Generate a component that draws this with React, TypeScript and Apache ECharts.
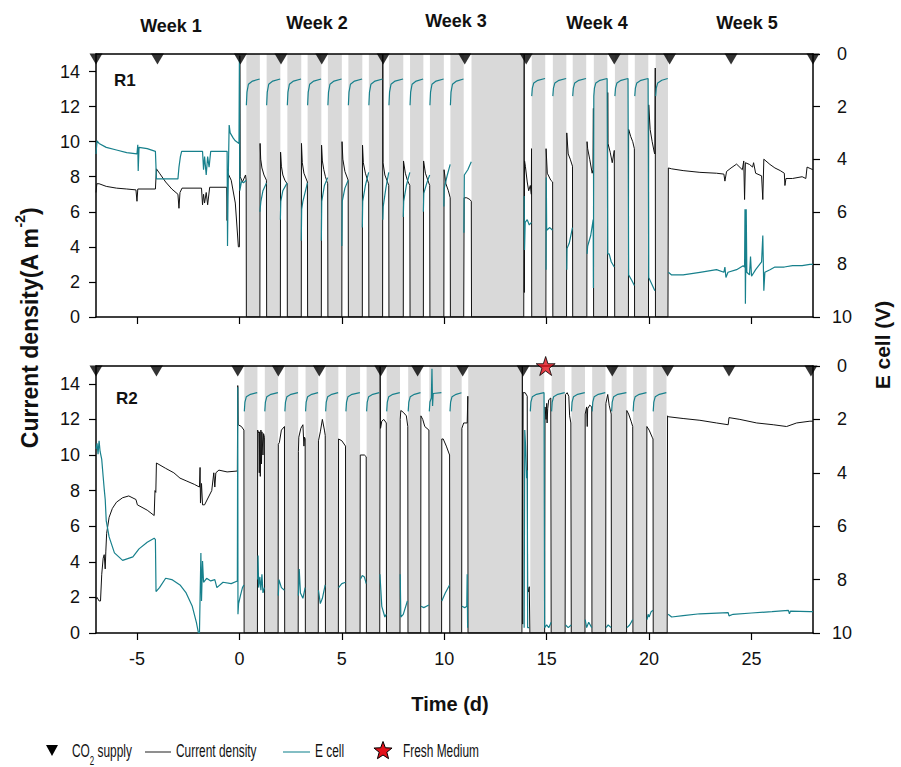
import React, { useEffect, useRef } from "react";
import * as echarts from "echarts";

type Pt = [number, number] | null;

const xTickValues = [-5, 0, 5, 10, 15, 20, 25];
const currentTickValues = [0, 2, 4, 6, 8, 10, 12, 14];
const weekLabels = ["Week 1", "Week 2", "Week 3", "Week 4", "Week 5"];
const panelLabels = ["R1", "R2"];
const co2DaysR1 = [-7, -4, 0.05, 2.03, 4.02, 7.02, 11, 14, 18.3, 21, 24, 28];
const co2DaysR2 = [-7, -4.05, -0.08, 1.9, 3.9, 6.9, 8.7, 10.9, 13.85, 18.2, 20.9, 23.9, 27.9];
const freshMediumDaysR2 = [14.95];

const shadeR1: [number, number][] = [
  [0.34, 1.0], [1.33, 2.0], [2.34, 3.02], [3.33, 4.0], [4.32, 5.0], [5.32, 6.0], [6.32, 7.0],
  [7.3, 8.0], [8.33, 8.98], [9.3, 9.98], [10.3, 10.95], [11.33, 13.85], [14.27, 14.93],
  [15.3, 15.96], [16.27, 16.93], [17.3, 17.96], [18.33, 18.98], [19.3, 19.96], [20.32, 20.92],
];
const shadeR2: [number, number][] = [
  [0.24, 0.88], [1.24, 1.89], [2.22, 2.87], [3.23, 3.85], [4.21, 4.83], [5.2, 5.89], [6.21, 6.84],
  [7.19, 7.84], [8.24, 8.85], [9.27, 9.87], [10.28, 10.85], [11.17, 13.74], [14.2, 14.88],
  [15.24, 15.89], [16.21, 16.87], [17.22, 17.87], [18.17, 18.9], [19.22, 19.88], [20.2, 20.85],
];

// R1 current density (A m-2)
const r1Current: Pt[] = [
  [-7, 7.1], [-6.96, 7.6], [-6.85, 7.6], [-6.5, 7.45], [-6, 7.35], [-5.5, 7.3], [-5.05, 7.25], [-5.0, 6.6],
  [-4.96, 7.3], [-4.1, 7.3], [-4.05, 8.45], [-3.9, 8.2], [-3.6, 7.7], [-3.3, 7.3], [-3.0, 7.0], [-2.95, 6.2],
  [-2.9, 7.1], [-2.8, 7.35], [-1.85, 7.35], [-1.8, 6.4], [-1.75, 7.0], [-1.7, 6.5], [-1.62, 7.1], [-1.55, 6.4],
  [-1.5, 6.9], [-1.45, 7.4], [-0.62, 7.4], [-0.6, 5.5], [-0.56, 8.2], [-0.4, 7.8], [-0.2, 6.5], [-0.05, 4.0],
  [0.0, 4.0], [0.02, 14.9], [0.04, 8.0], [0.15, 7.7], [0.3, 8.1], [0.33, 7.8], [0.34, 0],
  [1.0, 0], [1.01, 9.9], [1.04, 9.0], [1.1, 8.5], [1.2, 8.1], [1.32, 7.8], [1.33, 0],
  [2.0, 0], [2.01, 9.4], [2.05, 8.6], [2.12, 8.1], [2.22, 7.8], [2.33, 7.6], [2.34, 0],
  [3.02, 0], [3.03, 9.9], [3.07, 8.8], [3.15, 8.2], [3.32, 7.7], [3.33, 0],
  [4.0, 0], [4.01, 9.8], [4.05, 8.9], [4.12, 8.4], [4.2, 8.0], [4.31, 7.6], [4.32, 0],
  [5.0, 0], [5.01, 10.0], [5.05, 9.0], [5.15, 8.3], [5.31, 7.8], [5.32, 0],
  [6.0, 0], [6.01, 9.8], [6.05, 8.8], [6.15, 8.2], [6.31, 7.6], [6.32, 0],
  [6.99, 0], [7.0, 15], [7.01, 8.8], [7.1, 8.1], [7.2, 7.8], [7.29, 7.5], [7.3, 0],
  [8.0, 0], [8.01, 8.9], [8.1, 8.2], [8.2, 7.8], [8.32, 7.5], [8.33, 0],
  [8.98, 0], [8.99, 8.9], [9.08, 8.2], [9.2, 7.8], [9.29, 7.5], [9.3, 0],
  [9.98, 0], [9.99, 8.4], [10.08, 7.6], [10.2, 7.2], [10.29, 6.8], [10.3, 0],
  [10.95, 0], [10.97, 6.8], [11.1, 6.8], [11.25, 6.7], [11.32, 6.6], [11.33, 0],
  [13.88, 0], [13.9, 15], [13.91, 1.4], [13.92, 8.9], [13.96, 8.6], [14.05, 7.7], [14.12, 7.2], [14.2, 7.5],
  [14.25, 7.0], [14.26, 9.6], [14.27, 0],
  [14.96, 0], [14.97, 9.6], [15.03, 8.2], [15.2, 7.8], [15.29, 7.7], [15.3, 0],
  [15.97, 0], [15.98, 10.5], [16.05, 9.3], [16.15, 9.0], [16.26, 8.6], [16.27, 0],
  [16.96, 0], [16.97, 10.0], [17.0, 9.6], [17.1, 9.0], [17.22, 8.2], [17.26, 8.4], [17.28, 11.9], [17.29, 0],
  [17.97, 0], [17.98, 12.8], [17.99, 9.9], [18.1, 9.4], [18.2, 8.8], [18.3, 9.5], [18.32, 0],
  [18.99, 0], [19.0, 10.7], [19.1, 10.3], [19.2, 10.0], [19.28, 9.6], [19.29, 0],
  [19.97, 0], [19.98, 12.1], [20.05, 10.7], [20.15, 10.0], [20.25, 9.4], [20.28, 9.3], [20.3, 14.2], [20.31, 0],
  [20.92, 0], [20.94, 8.5], [21.1, 8.45], [21.66, 8.35], [22.48, 8.25], [23.29, 8.2], [23.65, 8.15], [23.7, 7.75],
  [23.78, 8.3], [24.0, 8.5], [24.27, 8.72], [24.55, 8.4], [24.62, 8.9], [24.66, 6.7], [24.7, 8.8], [24.9, 8.7],
  [25.05, 8.55], [25.1, 8.8], [25.2, 8.2], [25.49, 8.05], [25.55, 6.7], [25.6, 9.0], [25.9, 8.7], [26.14, 8.5],
  [26.4, 8.35], [26.6, 8.2], [26.63, 7.5], [26.68, 7.9], [27.0, 7.9], [27.47, 8.0], [27.65, 7.9], [27.71, 8.55],
  [27.9, 8.45], [28.0, 8.4],
];

// R1 cell voltage (V)
const r1Ecell: Pt[] = [
  [-7, 3.8], [-6.95, 3.3], [-6.85, 3.4], [-6.5, 3.55], [-6, 3.65], [-5.5, 3.75], [-5.0, 3.8], [-4.96, 3.45],
  [-4.94, 4.45], [-4.9, 3.55], [-4.5, 3.6], [-4.1, 3.7], [-4.05, 4.75], [-3.0, 4.75], [-2.95, 4.3], [-2.88, 3.9],
  [-2.82, 3.7], [-1.8, 3.7], [-1.75, 4.4], [-1.7, 3.9], [-1.62, 4.6], [-1.55, 3.9], [-1.48, 4.3], [-1.4, 3.7],
  [-0.6, 3.7], [-0.58, 7.3], [-0.55, 5.0], [-0.5, 2.7], [-0.45, 3.0], [-0.3, 3.2], [-0.2, 3.3], [-0.02, 3.4],
  [0.0, 0.2], [0.02, 5.2], [0.1, 4.85], [0.2, 4.9], [0.33, 4.8], null,
  [0.34, 1.95], [0.37, 1.45], [0.44, 1.15], [0.64, 1.03], [0.99, 0.95], null,
  [1.0, 6.0], [1.05, 5.6], [1.15, 5.2], [1.32, 4.9], null,
  [1.33, 1.95], [1.36, 1.45], [1.43, 1.15], [1.63, 1.03], [1.99, 0.95], null,
  [2.0, 6.3], [2.02, 5.6], [2.12, 5.2], [2.33, 4.9], null,
  [2.34, 1.95], [2.37, 1.45], [2.44, 1.15], [2.64, 1.03], [3.01, 0.95], null,
  [3.02, 7.1], [3.04, 5.9], [3.1, 5.6], [3.32, 4.9], null,
  [3.33, 1.95], [3.36, 1.45], [3.43, 1.15], [3.63, 1.03], [3.99, 0.95], null,
  [4.0, 7.1], [4.02, 5.6], [4.15, 5.0], [4.31, 4.7], null,
  [4.32, 1.95], [4.35, 1.45], [4.42, 1.15], [4.62, 1.03], [4.99, 0.95], null,
  [5.0, 7.3], [5.02, 5.6], [5.15, 5.1], [5.31, 4.8], null,
  [5.32, 1.95], [5.35, 1.45], [5.42, 1.15], [5.62, 1.03], [5.99, 0.95], null,
  [6.0, 6.6], [6.02, 5.6], [6.15, 5.0], [6.31, 4.5], null,
  [6.32, 1.95], [6.35, 1.45], [6.42, 1.15], [6.62, 1.03], [6.99, 0.95], null,
  [7.0, 6.3], [7.02, 5.8], [7.15, 5.1], [7.29, 4.5], null,
  [7.3, 1.95], [7.33, 1.45], [7.4, 1.15], [7.6, 1.03], [7.99, 0.95], null,
  [8.0, 6.2], [8.02, 5.6], [8.15, 5.0], [8.32, 4.5], null,
  [8.33, 1.95], [8.36, 1.45], [8.43, 1.15], [8.63, 1.03], [8.97, 0.95], null,
  [8.98, 6.0], [9.0, 5.3], [9.15, 4.9], [9.29, 4.6], null,
  [9.3, 1.95], [9.33, 1.45], [9.4, 1.15], [9.6, 1.03], [9.97, 0.95], null,
  [9.98, 5.8], [10.0, 5.1], [10.15, 4.6], [10.29, 4.2], null,
  [10.3, 1.95], [10.33, 1.45], [10.4, 1.15], [10.6, 1.03], [10.94, 0.95], null,
  [10.96, 6.8], [10.98, 4.6], [11.15, 4.4], [11.32, 4.1], null,
  [13.9, 5.4], [13.92, 7.45], [13.95, 6.4], [14.05, 6.3], [14.15, 6.5], [14.26, 6.4], null,
  [14.27, 1.6], [14.3, 1.3], [14.37, 1.1], [14.57, 1.0], [14.92, 0.93], null,
  [14.97, 8.2], [14.98, 4.7], [15.0, 6.7], [15.15, 6.6], [15.29, 6.7], null,
  [15.3, 1.6], [15.33, 1.3], [15.4, 1.1], [15.6, 1.0], [15.95, 0.93], null,
  [15.98, 8.2], [15.99, 7.4], [16.1, 7.2], [16.26, 6.6], null,
  [16.27, 1.6], [16.3, 1.3], [16.37, 1.1], [16.57, 1.0], [16.92, 0.93], null,
  [16.97, 7.6], [17.0, 7.3], [17.15, 6.9], [17.27, 6.3], [17.28, 8.9],
  [17.3, 1.6], [17.33, 1.3], [17.4, 1.1], [17.6, 1.0], [17.95, 0.93],
  [17.98, 7.6], [18.05, 7.6], [18.15, 7.9], [18.3, 8.1], null,
  [18.33, 1.6], [18.36, 1.3], [18.43, 1.1], [18.63, 1.0], [18.97, 0.93],
  [19.0, 8.4], [19.15, 8.6], [19.28, 8.8], null,
  [19.3, 1.6], [19.33, 1.3], [19.4, 1.1], [19.6, 1.0], [19.95, 0.93],
  [19.98, 8.5], [20.1, 8.7], [20.28, 9.0], null,
  [20.32, 1.6], [20.35, 1.3], [20.42, 1.1], [20.62, 1.0], [20.91, 0.93], null,
  [20.94, 8.3], [21.1, 8.4], [21.66, 8.4], [22.48, 8.3], [23.29, 8.2], [23.65, 8.3], [23.7, 8.1], [23.75, 8.5],
  [23.85, 8.3], [24.27, 8.2], [24.59, 8.05], [24.66, 8.1], [24.68, 5.9], [24.7, 9.5], [24.74, 5.9], [24.77, 8.3],
  [24.9, 8.4], [24.95, 7.7], [25.0, 8.45], [25.2, 8.2], [25.49, 7.9], [25.55, 6.9], [25.6, 9.0], [25.65, 8.3],
  [25.9, 8.2], [26.14, 8.1], [26.6, 8.1], [27.0, 8.05], [27.47, 8.05], [27.85, 8.0], [28.0, 8.0],
];

// R2 current density (A m-2)
const r2Current: Pt[] = [
  [-7, 1.9], [-6.95, 2.0], [-6.85, 1.8], [-6.78, 1.8], [-6.72, 3.3], [-6.65, 4.2], [-6.6, 4.4], [-6.55, 3.6],
  [-6.52, 4.6], [-6.48, 5.6], [-6.36, 6.5], [-6.2, 7.0], [-6.0, 7.35], [-5.7, 7.6], [-5.4, 7.7], [-5.05, 7.5],
  [-4.98, 7.2], [-4.5, 6.9], [-4.16, 6.6], [-4.12, 8.0], [-4.08, 7.9], [-4.05, 9.55], [-3.6, 9.25], [-3.2, 9.0],
  [-2.9, 8.7], [-2.6, 8.55], [-2.2, 8.35], [-1.95, 8.2], [-1.92, 9.3], [-1.9, 7.3], [-1.85, 8.4], [-1.8, 7.2],
  [-1.7, 7.2], [-1.35, 8.0], [-1.25, 9.0], [-1.2, 8.2], [-1.15, 9.0], [-1.0, 9.15], [-0.6, 9.05], [-0.1, 9.1],
  [-0.08, 13.9], [-0.06, 11.7], [0.1, 11.6], [0.22, 11.4], [0.23, 0],
  [0.88, 0], [0.89, 11.4], [0.95, 11.2], [0.97, 9.0], [0.99, 11.3], [1.02, 8.8], [1.05, 11.4], [1.08, 9.5],
  [1.1, 11.3], [1.15, 10.0], [1.18, 11.2], [1.22, 11.0], [1.23, 0],
  [1.89, 0], [1.9, 10.6], [1.95, 10.7], [2.05, 11.4], [2.2, 11.6], [2.21, 0],
  [2.87, 0], [2.88, 10.2], [2.9, 11.0], [3.0, 11.5], [3.1, 11.7], [3.15, 10.5], [3.18, 11.0], [3.21, 10.9], [3.22, 0],
  [3.85, 0], [3.86, 10.8], [3.95, 11.3], [4.05, 12.0], [4.15, 11.4], [4.19, 11.1], [4.2, 0],
  [4.83, 0], [4.84, 10.9], [5.0, 10.8], [5.18, 10.5], [5.19, 0],
  [5.89, 0], [5.9, 10.0], [6.1, 10.0], [6.19, 9.9], [6.2, 0],
  [6.85, 0], [6.87, 15], [6.89, 11.5], [6.95, 11.9], [7.05, 12.0], [7.17, 11.8], [7.18, 0],
  [7.84, 0], [7.85, 12.0], [7.88, 12.5], [8.0, 12.4], [8.15, 12.2], [8.22, 11.6], [8.23, 0],
  [8.85, 0], [8.86, 12.2], [8.95, 12.0], [9.05, 11.6], [9.25, 11.4], [9.26, 0],
  [9.87, 0], [9.88, 10.9], [9.95, 10.9], [10.1, 10.5], [10.26, 10.0], [10.27, 0],
  [10.85, 0], [10.86, 11.5], [10.95, 11.8], [11.12, 11.8], [11.15, 13.3], [11.16, 0],
  [13.79, 0], [13.81, 15], [13.83, 0.5], [13.85, 13.5], [13.95, 13.5], [14.05, 13.3], [14.07, 2.6], [14.1, 2.3],
  [14.15, 2.6], [14.18, 0],
  [14.9, 0], [14.92, 12.7], [14.97, 12.0], [15.0, 12.9], [15.02, 11.8], [15.05, 12.6], [15.1, 13.1], [15.2, 13.2], [15.22, 0],
  [15.9, 0], [15.92, 13.4], [16.0, 13.5], [16.08, 13.3], [16.12, 12.2], [16.18, 11.8], [16.2, 0],
  [16.87, 0], [16.88, 12.3], [16.95, 12.7], [16.98, 11.6], [17.0, 12.6], [17.1, 12.8], [17.2, 12.7], [17.21, 0],
  [17.88, 0], [17.89, 12.9], [17.98, 13.4], [18.05, 12.8], [18.15, 12.3], [18.16, 0],
  [18.9, 0], [18.91, 12.5], [19.0, 12.3], [19.12, 11.9], [19.2, 11.6], [19.21, 0],
  [19.88, 0], [19.89, 11.6], [20.0, 11.4], [20.15, 11.0], [20.19, 10.9], [20.2, 0],
  [20.88, 0], [20.9, 12.2], [20.93, 12.15], [21.66, 12.05], [22.48, 11.95], [23.29, 11.8], [23.86, 11.7],
  [23.9, 12.1], [24.43, 12.0], [25.25, 11.8], [26.06, 11.7], [26.71, 11.6], [27.2, 11.8], [27.85, 11.9], [28, 11.9],
];

// R2 cell voltage (V)
const r2Ecell: Pt[] = [
  [-7, 3.1], [-6.95, 2.9], [-6.9, 3.3], [-6.85, 2.8], [-6.8, 3.2], [-6.72, 3.5], [-6.65, 4.15], [-6.6, 4.6],
  [-6.55, 5.0], [-6.5, 5.8], [-6.36, 6.4], [-6.1, 7.0], [-5.7, 7.28], [-5.2, 7.15], [-4.9, 6.85], [-4.5, 6.6],
  [-4.16, 6.45], [-4.1, 6.5], [-4.07, 8.45], [-3.9, 8.3], [-3.6, 7.95], [-3.3, 8.0], [-2.9, 8.2], [-2.6, 8.5],
  [-2.3, 9.0], [-2.1, 9.6], [-2.0, 10.0], [-1.95, 10.0], [-1.88, 7.0], [-1.85, 8.8], [-1.8, 7.3], [-1.75, 8.1],
  [-1.6, 7.95], [-1.4, 8.05], [-1.2, 8.0], [-1.1, 8.3], [-0.8, 8.1], [-0.4, 8.15], [-0.1, 8.05],
  [-0.08, 0.8], [-0.07, 9.3], [-0.04, 8.9], [0.05, 8.6], [0.15, 8.3], [0.22, 8.2], null,
  [0.24, 1.7], [0.27, 1.35], [0.34, 1.15], [0.54, 1.06], [0.87, 1.0], null,
  [0.89, 8.0], [0.91, 7.1], [0.94, 8.3], [1.0, 7.9], [1.05, 8.4], [1.1, 7.8], [1.15, 8.5], [1.22, 8.3], null,
  [1.24, 1.7], [1.27, 1.35], [1.34, 1.15], [1.54, 1.06], [1.88, 1.0], null,
  [1.9, 8.6], [1.93, 8.0], [2.05, 8.3], [2.2, 8.4], null,
  [2.22, 1.7], [2.25, 1.35], [2.32, 1.15], [2.52, 1.06], [2.86, 1.0], null,
  [2.88, 8.6], [2.92, 7.6], [2.98, 8.5], [3.1, 8.7], [3.21, 8.3], null,
  [3.23, 1.7], [3.26, 1.35], [3.33, 1.15], [3.53, 1.06], [3.84, 1.0], null,
  [3.86, 8.4], [3.95, 8.9], [4.05, 8.7], [4.19, 8.2], null,
  [4.21, 1.7], [4.24, 1.35], [4.31, 1.15], [4.51, 1.06], [4.82, 1.0], null,
  [4.84, 8.3], [5.0, 8.15], [5.18, 8.1], null,
  [5.2, 1.7], [5.23, 1.35], [5.3, 1.15], [5.5, 1.06], [5.88, 1.0], null,
  [5.9, 8.0], [6.0, 7.85], [6.1, 7.9], [6.19, 8.15], null,
  [6.21, 1.7], [6.24, 1.35], [6.31, 1.15], [6.51, 1.06], [6.83, 1.0], null,
  [6.86, 7.8], [6.95, 9.0], [7.1, 9.4], [7.17, 9.3], null,
  [7.19, 1.7], [7.22, 1.35], [7.29, 1.15], [7.49, 1.06], [7.83, 1.0], null,
  [7.85, 7.8], [7.88, 9.4], [8.0, 9.3], [8.2, 8.8], null,
  [8.24, 1.7], [8.27, 1.35], [8.34, 1.15], [8.54, 1.06], [8.84, 1.0], null,
  [8.86, 9.0], [9.0, 9.05], [9.25, 8.95], null,
  [9.27, 1.7], [9.3, 1.35], [9.37, 1.2], [9.4, 0.1], [9.43, 1.5], [9.46, 1.03], [9.86, 1.0], null,
  [9.88, 8.8], [10.05, 8.5], [10.26, 8.2], null,
  [10.28, 1.7], [10.31, 1.35], [10.38, 1.15], [10.58, 1.06], [10.84, 1.0], null,
  [10.86, 9.0], [11.0, 9.05], [11.1, 9.0], [11.12, 7.8], [11.14, 9.8], null,
  [13.9, 9.8], [13.93, 2.4], [13.97, 3.0], [14.02, 4.2], [14.05, 3.9], [14.07, 9.8], [14.15, 9.8], null,
  [14.2, 1.7], [14.23, 1.35], [14.3, 1.15], [14.5, 1.06], [14.87, 1.0],
  [14.9, 9.8], [15.0, 9.7], [15.1, 9.8], [15.22, 9.6], null,
  [15.24, 1.7], [15.27, 1.35], [15.34, 1.15], [15.54, 1.06], [15.88, 1.0], null,
  [15.92, 9.7], [16.05, 9.8], [16.2, 9.7], null,
  [16.21, 1.7], [16.24, 1.35], [16.31, 1.15], [16.51, 1.06], [16.86, 1.0], null,
  [16.88, 9.5], [16.95, 9.8], [17.05, 9.6], [17.2, 9.8], null,
  [17.22, 1.7], [17.25, 1.35], [17.32, 1.15], [17.52, 1.06], [17.86, 1.0], null,
  [17.9, 9.8], [18.0, 9.7], [18.15, 9.8], null,
  [18.17, 1.7], [18.2, 1.35], [18.27, 1.15], [18.47, 1.06], [18.89, 1.0], null,
  [18.92, 9.8], [19.05, 9.7], [19.2, 9.5], null,
  [19.22, 1.7], [19.25, 1.35], [19.32, 1.15], [19.52, 1.06], [19.87, 1.0], null,
  [19.9, 9.5], [19.95, 9.3], [20.0, 9.4], [20.1, 9.2], [20.19, 9.15], null,
  [20.2, 1.7], [20.23, 1.35], [20.3, 1.15], [20.5, 1.06], [20.84, 1.0], null,
  [20.93, 9.3], [21.1, 9.4], [21.66, 9.35], [22.48, 9.28], [23.86, 9.24], [23.9, 9.36], [24.1, 9.3], [25.0, 9.25],
  [26.0, 9.2], [26.8, 9.15], [26.85, 9.28], [26.9, 9.18], [27.85, 9.2], [28.0, 9.2],
];

const SANS = "'Liberation Sans', Arial, Helvetica, sans-serif";
const BLACK = "#000";
const TEAL = "#17808c";
const GRAY = "#d9d9d9";

const toData = (arr: Pt[]) => arr.map((p) => (p === null ? ["-", "-"] : p));

const STAR_PATH =
  "path://M50,2 L61.8,37.6 L99,37.6 L69,59.6 L80.5,95.3 L50,73.2 L19.5,95.3 L31,59.6 L1,37.6 L38.2,37.6 Z";

function buildOption() {
  const lineStyle = { color: BLACK, width: 1.5 };
  const tickStyle = { color: BLACK, width: 1.2 };
  const grids = [
    { left: 96, top: 54, width: 717, height: 263 },
    { left: 96, top: 366, width: 717, height: 267 },
  ];
  const xAxis: any[] = [];
  const yAxis: any[] = [];
  [0, 1].forEach((g) => {
    xAxis.push({
      type: "value", gridIndex: g, min: -7, max: 28, position: "bottom", z: 4,
      axisLine: { show: true, onZero: false, lineStyle },
      axisTick: { show: true, inside: false, length: 7, customValues: xTickValues, lineStyle: tickStyle },
      axisLabel: {
        show: g === 1, customValues: xTickValues, margin: 17, fontSize: 18, fontFamily: SANS, color: "#111",
      },
      splitLine: { show: false },
    });
    xAxis.push({
      type: "value", gridIndex: g, min: -7, max: 28, position: "top", z: 4,
      axisLine: { show: true, onZero: false, lineStyle },
      axisTick: { show: false }, axisLabel: { show: false }, splitLine: { show: false },
    });
    yAxis.push({
      type: "value", gridIndex: g, min: 0, max: 15, position: "left", z: 4,
      axisLine: { show: true, onZero: false, lineStyle },
      axisTick: { show: true, inside: false, length: 7, customValues: currentTickValues, lineStyle: tickStyle },
      axisLabel: { customValues: currentTickValues, margin: 16, fontSize: 18, fontFamily: SANS, color: "#111" },
      splitLine: { show: false },
    });
    yAxis.push({
      type: "value", gridIndex: g, min: 0, max: 10, interval: 2, inverse: true, position: "right", z: 4,
      axisLine: { show: true, onZero: false, lineStyle },
      axisTick: { show: true, inside: false, length: 7, lineStyle: tickStyle },
      axisLabel: { margin: 29, align: "center", fontSize: 18, fontFamily: SANS, color: "#111" },
      splitLine: { show: false },
    });
  });

  const panel = (g: number, shade: [number, number][], cur: Pt[], ecell: Pt[], co2: number[]) => {
    const xi = g * 2;
    const yl = g * 2;
    const yr = g * 2 + 1;
    return [
      {
        type: "line", xAxisIndex: xi, yAxisIndex: yl, data: [], z: 1, silent: true,
        markArea: {
          silent: true, itemStyle: { color: GRAY },
          data: shade.map(([a, b]) => [{ xAxis: a }, { xAxis: b }]),
        },
      },
      {
        type: "line", name: "Current density", xAxisIndex: xi, yAxisIndex: yl, data: toData(cur),
        showSymbol: false, symbol: "none", connectNulls: false, z: 5,
        lineStyle: { color: "#111", width: 1 }, itemStyle: { color: "#111" },
      },
      {
        type: "line", name: "E cell", xAxisIndex: xi, yAxisIndex: yr, data: toData(ecell),
        showSymbol: false, symbol: "none", connectNulls: false, z: 6,
        lineStyle: { color: TEAL, width: 1.2 }, itemStyle: { color: TEAL },
      },
      {
        type: "scatter", name: "CO2 supply", xAxisIndex: xi, yAxisIndex: yl, data: co2.map((d) => [d, 15]),
        symbol: "triangle", symbolRotate: 180, symbolSize: [13, 11], symbolOffset: [0, 5],
        itemStyle: { color: BLACK }, clip: false, z: 8, silent: true,
      },
    ];
  };

  const series: any[] = [
    ...panel(0, shadeR1, r1Current, r1Ecell, co2DaysR1),
    ...panel(1, shadeR2, r2Current, r2Ecell, co2DaysR2),
    {
      type: "scatter", name: "Fresh Medium", xAxisIndex: 2, yAxisIndex: 2,
      data: freshMediumDaysR2.map((d) => [d, 15]), symbol: STAR_PATH, symbolSize: 19,
      itemStyle: { color: "#e3121b", borderColor: "#000", borderWidth: 1 }, clip: false, z: 9, silent: true,
    },
  ];

  const weekX = [171, 317, 456, 597, 747];
  const weekY = [26, 23, 21, 23, 23];
  const starPts: number[][] = [];
  for (let i = 0; i < 10; i++) {
    const r = i % 2 === 0 ? 9.5 : 4;
    const a = -Math.PI / 2 + (i * Math.PI) / 5;
    starPts.push([383 + r * Math.cos(a), 751 + r * Math.sin(a)]);
  }
  const legendFont = { fontSize: 18, fontFamily: SANS, fill: "#111" };
  const NX = 0.66;

  const graphic: any[] = [
    ...weekLabels.map((w, i) => ({
      type: "text", x: weekX[i], y: weekY[i], z: 20,
      style: { text: w, fontSize: 18, fontWeight: "bold", fontFamily: SANS, fill: "#111", align: "center", verticalAlign: "middle", textAlign: "center", textVerticalAlign: "middle" },
    })),
    {
      type: "text", x: 114, y: 80, z: 20,
      style: { text: panelLabels[0], fontSize: 17, fontWeight: "bold", fontFamily: SANS, fill: "#111", verticalAlign: "middle", textVerticalAlign: "middle" },
    },
    {
      type: "text", x: 116, y: 398, z: 20,
      style: { text: panelLabels[1], fontSize: 17, fontWeight: "bold", fontFamily: SANS, fill: "#111", verticalAlign: "middle", textVerticalAlign: "middle" },
    },
    {
      type: "text", x: 27, y: 328, rotation: Math.PI / 2, z: 20,
      style: {
        text: "{a|Current density(A m}{s|-2}{a|)}",
        align: "center", verticalAlign: "middle", textAlign: "center", textVerticalAlign: "middle",
        rich: {
          a: { fontSize: 23, fontWeight: "bold", fontFamily: SANS, fill: "#111", color: "#111", lineHeight: 28, verticalAlign: "bottom" },
          s: { fontSize: 14, fontWeight: "bold", fontFamily: SANS, fill: "#111", color: "#111", lineHeight: 28, verticalAlign: "top" },
        },
      },
    },
    {
      type: "text", x: 882, y: 345, rotation: Math.PI / 2, z: 20,
      style: { text: "E cell (V)", fontSize: 21, fontWeight: "bold", fontFamily: SANS, fill: "#111", align: "center", verticalAlign: "middle", textAlign: "center", textVerticalAlign: "middle" },
    },
    {
      type: "text", x: 450, y: 704, z: 20,
      style: { text: "Time (d)", fontSize: 20, fontWeight: "bold", fontFamily: SANS, fill: "#111", align: "center", verticalAlign: "middle", textAlign: "center", textVerticalAlign: "middle" },
    },
    { type: "polygon", z: 20, shape: { points: [[46, 745], [58, 745], [52, 756]] }, style: { fill: "#000" } },
    {
      type: "text", x: 72, y: 754, z: 20, scaleX: NX,
      style: {
        text: "{a|CO}{s|2}{a| supply}", verticalAlign: "middle", textVerticalAlign: "middle",
        rich: {
          a: { fontSize: 18, fontFamily: SANS, fill: "#111", color: "#111", lineHeight: 26, verticalAlign: "top" },
          s: { fontSize: 12, fontFamily: SANS, fill: "#111", color: "#111", lineHeight: 26, verticalAlign: "bottom" },
        },
      },
    },
    { type: "line", z: 20, shape: { x1: 145, y1: 752, x2: 171, y2: 752 }, style: { stroke: "#444", lineWidth: 1.2 } },
    { type: "text", x: 176, y: 751, z: 20, scaleX: NX, style: { text: "Current density", ...legendFont, verticalAlign: "middle", textVerticalAlign: "middle" } },
    { type: "line", z: 20, shape: { x1: 283, y1: 752, x2: 310, y2: 752 }, style: { stroke: "#5aa8b1", lineWidth: 1.5 } },
    { type: "text", x: 315, y: 751, z: 20, scaleX: NX, style: { text: "E cell", ...legendFont, verticalAlign: "middle", textVerticalAlign: "middle" } },
    { type: "polygon", z: 20, shape: { points: starPts }, style: { fill: "#e3121b", stroke: "#000", lineWidth: 1 } },
    { type: "text", x: 403, y: 751, z: 20, scaleX: NX, style: { text: "Fresh Medium", ...legendFont, verticalAlign: "middle", textVerticalAlign: "middle" } },
  ];

  return {
    animation: false,
    backgroundColor: "#fff",
    grid: grids,
    xAxis,
    yAxis,
    series,
    graphic,
  };
}

export default function App() {
  const ref = useRef<HTMLDivElement>(null);
  useEffect(() => {
    if (!ref.current) return;
    const chart = echarts.init(ref.current, null, { renderer: "svg" });
    chart.setOption(buildOption() as any);
    return () => chart.dispose();
  }, []);
  return (
    <div
      ref={ref}
      style={{ position: "fixed", left: 0, top: 0, width: 901, height: 767, background: "#fff" }}
    />
  );
}
